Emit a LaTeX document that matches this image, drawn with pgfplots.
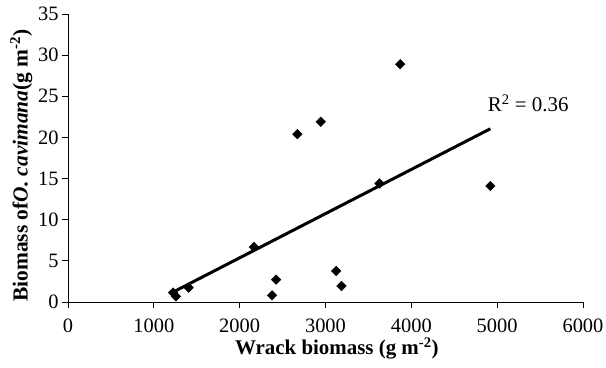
\documentclass[border=0pt]{standalone}
\usepackage{fontspec}
\setmainfont{Liberation Serif}
\usepackage{pgfplots}
\usepackage{pgfplotstable}
\pgfplotsset{compat=1.18}

\pgfplotstableread{
x y
1225 1.14
1257 0.69
1405 1.75
2167 6.69
2377 0.81
2424 2.72
2673 20.4
2945 21.9
3124 3.77
3186 1.95
3629 14.4
3870 28.9
4921 14.1
}\wrackdata

\begin{document}
\begin{tikzpicture}
\path[use as bounding box] (-68bp,-66bp) rectangle (538bp,302bp);
\begin{axis}[
  at={(0,0)}, anchor=south west,
  scale only axis, width=515bp, height=288bp,
  xmin=0, xmax=6000, ymin=0, ymax=35,
  axis lines=left,
  axis line style={-, line width=0.9bp},
  xtick={0,1000,...,6000}, ytick={0,5,...,35},
  tick align=outside, major tick length=6bp,
  tick style={line width=0.9bp, black},
  /pgf/number format/assume math mode=true,
  /pgf/number format/1000 sep={},
  ticklabel style={font=\fontsize{20.5}{24}\selectfont},
  xticklabel style={yshift=-7bp},
  xlabel={Wrack biomass (g m\textsuperscript{-2})},
  ylabel={Biomass of\textit{O. cavimana}(g m\textsuperscript{-2})},
  label style={font=\fontsize{21.5}{25}\selectfont\bfseries},
  xlabel style={at={(axis description cs:0.522,-0.184)}, anchor=base, font=\fontsize{21}{25}\selectfont\bfseries},
  ylabel style={at={(axis description cs:-0.0786,0.474)}, anchor=base},
  clip=false,
]
\addplot[only marks, mark=square*, mark size=3.4bp,
  mark options={rotate=45, fill=black, draw=black}] table[x=x, y=y] {\wrackdata};
\addplot[black, line width=3bp, no marks] table[x=x, y={create col/linear regression={y=y}}] {\wrackdata};
\node[anchor=base west, font=\fontsize{21}{24}\selectfont, inner sep=0pt] at (axis cs:4889,23.1) {R\textsuperscript{2} = 0.36};
\end{axis}
\end{tikzpicture}
\end{document}
